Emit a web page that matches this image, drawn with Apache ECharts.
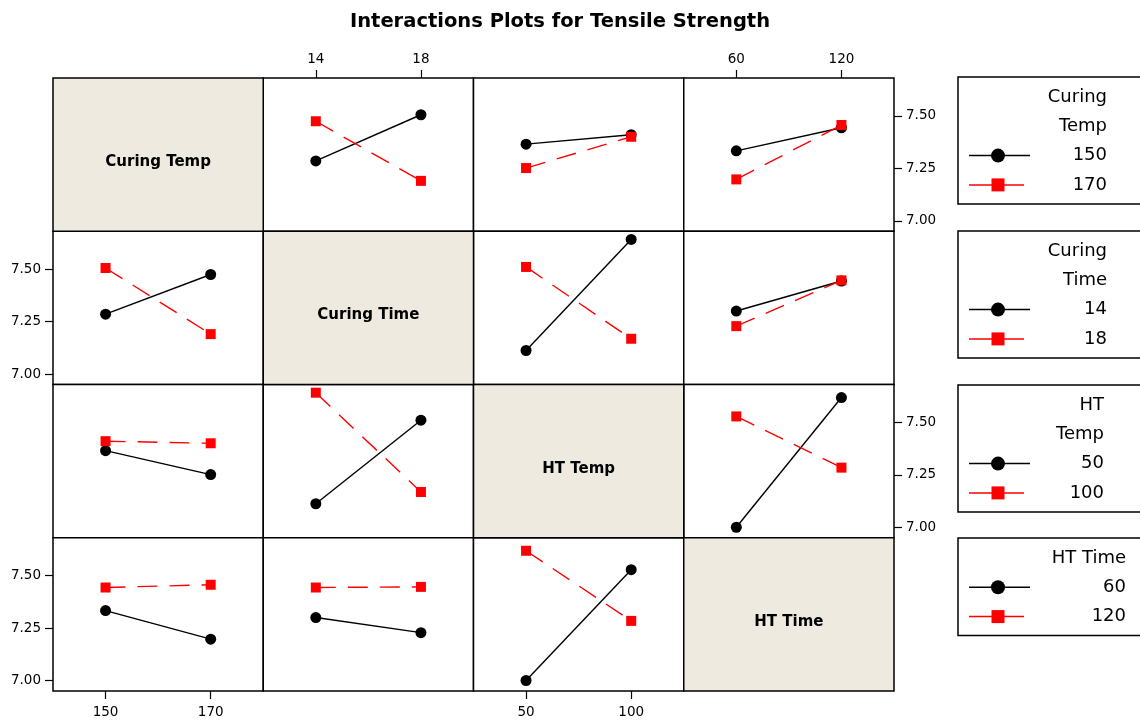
<!DOCTYPE html>
<html>
<head>
<meta charset="utf-8">
<script src="https://cdn.jsdelivr.net/npm/echarts@6/dist/echarts.min.js"></script>
<style>
  html, body { margin: 0; padding: 0; background: #fff; }
  #chart { width: 1140px; height: 720px; }
</style>
</head>
<body>
<div id="chart"></div>
<script>
// Factors of the tensile strength experiment and their two levels
const factorNames = ['Curing Temp', 'Curing Time', 'HT Temp', 'HT Time'];
const legendTitles = ['Curing\nTemp', 'Curing\nTime', 'HT\nTemp', 'HT Time'];
const curingTempLevels = ['150', '170'];
const curingTimeLevels = ['14', '18'];
const htTempLevels = ['50', '100'];
const htTimeLevels = ['60', '120'];
const yTickValues = [7.00, 7.25, 7.50];
const yMin = 6.95;
const yMax = 7.68;

// Mean tensile strength for each pair of factors:
// rows = levels of the first factor, columns = levels of the second factor
const curingTempByCuringTime = [[7.285, 7.505], [7.474, 7.190]];
const curingTempByHtTemp     = [[7.365, 7.410], [7.251, 7.400]];
const curingTempByHtTime     = [[7.333, 7.443], [7.197, 7.456]];
const curingTimeByHtTemp     = [[7.112, 7.641], [7.510, 7.168]];
const curingTimeByHtTime     = [[7.300, 7.443], [7.228, 7.446]];
const htTempByHtTime         = [[7.000, 7.618], [7.528, 7.284]];

const factorLevels = [curingTempLevels, curingTimeLevels, htTempLevels, htTimeLevels];
const pairTables = {
  '0-1': curingTempByCuringTime,
  '0-2': curingTempByHtTemp,
  '0-3': curingTempByHtTime,
  '1-2': curingTimeByHtTemp,
  '1-3': curingTimeByHtTime,
  '2-3': htTempByHtTime
};

// Means with the trace factor on rows and the x factor on columns
function pairMeans(traceF, xF) {
  if (traceF < xF) return pairTables[traceF + '-' + xF];
  const t = pairTables[xF + '-' + traceF];
  return [[t[0][0], t[1][0]], [t[0][1], t[1][1]]];
}

// Layout of the 4 x 4 matrix
const FONT = 'DejaVu Sans';
const cellLeft = 53, cellTop = 78, cellW = 210.25, cellH = 153.25;
const diagFill = '#EEEAE0';
const traceColors = ['#000000', '#FF0000'];
const traceSymbols = ['circle', 'rect'];
const traceSymbolSizes = [11, 10];
const traceDash = ['solid', [20, 12]];

const grids = [], xAxes = [], yAxes = [], series = [], graphics = [];
const axisText = { color: '#000', fontFamily: FONT, fontSize: 13.5 };

for (let r = 0; r < 4; r++) {
  for (let c = 0; c < 4; c++) {
    const left = cellLeft + c * cellW;
    const top = cellTop + r * cellH;
    if (r === c) {
      graphics.push({
        type: 'rect', z: 1,
        shape: { x: left, y: top, width: cellW, height: cellH },
        style: { fill: diagFill, stroke: '#000', lineWidth: 1.5 }
      });
      graphics.push({
        type: 'text', z: 2,
        x: left + cellW / 2, y: top + cellH / 2 + 7.5,
        style: {
          text: factorNames[r], fill: '#000', align: 'center', verticalAlign: 'middle',
          font: 'bold 15px "' + FONT + '"'
        }
      });
      continue;
    }
    const gi = grids.length;
    grids.push({
      left: left, top: top, width: cellW, height: cellH,
      show: true, backgroundColor: '#fff', borderColor: '#000', borderWidth: 1.5
    });
    const showX = (r === 0 && (c === 1 || c === 3)) || (r === 3 && (c === 0 || c === 2));
    const showY = (c === 0 && (r === 1 || r === 3)) || (c === 3 && (r === 0 || r === 2));
    xAxes.push({
      gridIndex: gi, type: 'category', data: factorLevels[c], boundaryGap: true,
      position: r === 0 ? 'top' : 'bottom',
      axisLine: { show: false },
      axisTick: { show: showX, alignWithLabel: true, length: 8, lineStyle: { color: '#000', width: 1.2 } },
      axisLabel: Object.assign({ show: showX, margin: r === 0 ? 12 : 14, interval: 0 }, axisText),
      splitLine: { show: false }
    });
    yAxes.push({
      gridIndex: gi, type: 'value', min: yMin, max: yMax,
      position: c === 0 ? 'left' : 'right',
      axisLine: { show: false },
      axisTick: { show: showY, length: 8, customValues: yTickValues, lineStyle: { color: '#000', width: 1.2 } },
      axisLabel: Object.assign({
        show: showY, margin: 12, customValues: yTickValues,
        formatter: function (v) { return Number(v).toFixed(2); }
      }, axisText),
      splitLine: { show: false }
    });
    const means = pairMeans(r, c);
    for (let a = 0; a < 2; a++) {
      series.push({
        type: 'line', xAxisIndex: gi, yAxisIndex: gi,
        data: means[a],
        symbol: traceSymbols[a], symbolSize: traceSymbolSizes[a],
        showSymbol: true, clip: false, silent: true, z: 3 + a,
        itemStyle: { color: traceColors[a] },
        lineStyle: { color: traceColors[a], width: 1.4, type: traceDash[a] }
      });
    }
  }
}

// Title
graphics.push({
  type: 'text', z: 5, x: 560, y: 22,
  style: {
    text: 'Interactions Plots for Tensile Strength', fill: '#000',
    align: 'center', verticalAlign: 'middle', font: 'bold 19.5px "' + FONT + '"'
  }
});

// One legend box per trace factor, to the right of its row
const legendLeft = 958;
const legendTops = [77, 231, 385, 538];
const legendTextRight = [1107, 1107, 1104, 1126];
const legendLineStep = 29.3;
for (let k = 0; k < 4; k++) {
  const titleLines = legendTitles[k].split('\n');
  const nLines = titleLines.length + 2;
  const top = legendTops[k];
  const height = 20 + (nLines - 1) * legendLineStep + 19;
  graphics.push({
    type: 'rect', z: 1,
    shape: { x: legendLeft, y: top, width: 200, height: height },
    style: { fill: '#fff', stroke: '#000', lineWidth: 1.5 }
  });
  const rows = titleLines.concat(factorLevels[k]);
  rows.forEach(function (txt, i) {
    const cy = top + 20 + i * legendLineStep;
    graphics.push({
      type: 'text', z: 3, x: legendTextRight[k], y: cy,
      style: {
        text: txt, fill: '#000', align: 'right', verticalAlign: 'middle',
        font: '18px "' + FONT + '"'
      }
    });
    const a = i - titleLines.length;
    if (a >= 0) {
      graphics.push({
        type: 'line', z: 3,
        shape: { x1: 969, y1: cy, x2: a === 0 ? 1030 : 1024, y2: cy },
        style: { stroke: traceColors[a], lineWidth: 1.5 }
      });
      if (a === 0) {
        graphics.push({
          type: 'circle', z: 4, shape: { cx: 998, cy: cy, r: 7 },
          style: { fill: traceColors[a] }
        });
      } else {
        graphics.push({
          type: 'rect', z: 4, shape: { x: 991.5, y: cy - 6.5, width: 13, height: 13 },
          style: { fill: traceColors[a] }
        });
      }
    }
  });
}

const chart = echarts.init(document.getElementById('chart'), null, { renderer: 'canvas' });
chart.setOption({
  animation: false,
  backgroundColor: '#fff',
  grid: grids,
  xAxis: xAxes,
  yAxis: yAxes,
  series: series,
  graphic: { elements: graphics }
});
</script>
</body>
</html>
